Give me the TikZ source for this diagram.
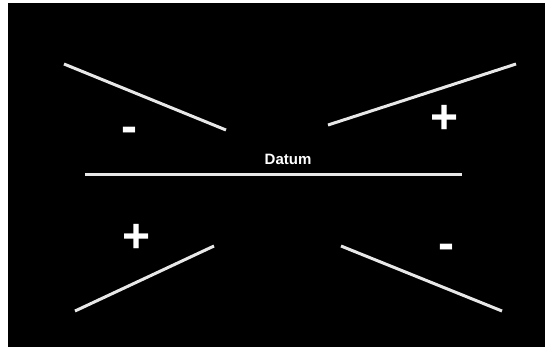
\documentclass[tikz,border=0pt]{standalone}
\usepackage{fontspec}
\setmainfont{Liberation Sans}
\begin{document}
\begin{tikzpicture}[x=0.75pt,y=0.75pt,yscale=-1,xscale=1,
    ray/.style={color={rgb, 255:red, 232; green, 232; blue, 232 }, line width=2.25pt},
    sign/.style={anchor=base, inner sep=0pt, color=white, font=\bfseries\fontsize{36}{40}\selectfont}]
            \useasboundingbox (0,0) rectangle (545,351);
            \fill [white] (0,0) rectangle (545,351);
            \fill [black] (8,3) rectangle (545,347);
            % datum and the four rays
            \draw [ray] (85,174) -- (462,174) ;
            \draw [ray] (64,64) -- (226,130) ;
            \draw [ray] (328,125) -- (516,64) ;
            \draw [ray] (75,311) -- (214,246) ;
            \draw [ray] (341,246) -- (502,311) ;
            % labels
            \draw (288,164.5) node [anchor=base, inner sep=0pt, color=white, font=\bfseries\fontsize{11.25}{13}\selectfont] (datum) {Datum};
            \draw (129.5,142) node [sign] (minusA) {-};
            \draw (445,133) node [sign] (plusA) {+};
            \draw (136.5,252) node [sign] (plusB) {+};
            \draw (446.5,259.5) node [sign] (minusB) {-};
\end{tikzpicture}
\end{document}
